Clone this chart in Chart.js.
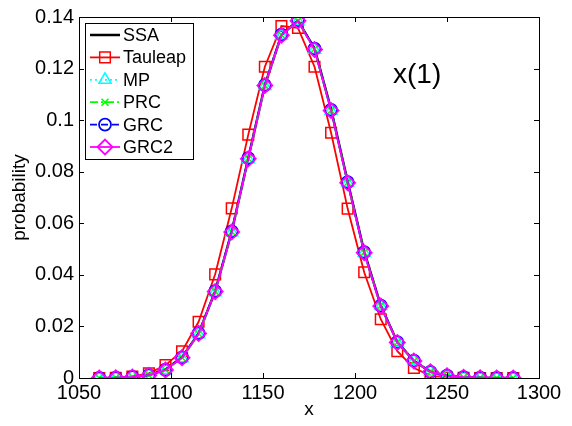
<!DOCTYPE html>
<html>
<head>
<meta charset="utf-8">
<script src="https://cdn.jsdelivr.net/npm/chart.js@4.4.0/dist/chart.umd.min.js"></script>
<style>
  html, body { margin: 0; padding: 0; background: #fff; }
  #wrap { width: 572px; height: 426px; }
</style>
</head>
<body>
<div id="wrap"><canvas id="distChart" width="572" height="426"></canvas></div>
<script>
// x positions of the histogram points
var xs = [1061, 1070, 1079, 1088, 1097, 1106, 1115, 1124, 1133, 1142, 1151, 1160, 1169,
          1178, 1187, 1196, 1205, 1214, 1223, 1232, 1241, 1250, 1259, 1268, 1277, 1286];

var ssa     = [0, 0.0001, 0.0004, 0.0011, 0.0033, 0.0080, 0.0173, 0.0336, 0.0568, 0.0852, 0.1135, 0.1330, 0.1386,
               0.1278, 0.1042, 0.0762, 0.0490, 0.0281, 0.0139, 0.0067, 0.0024, 0.0009, 0.0003, 0.0001, 0, 0];
var tauleap = [0, 0.0001, 0.0006, 0.0018, 0.0050, 0.0104, 0.0218, 0.0402, 0.0658, 0.0944, 0.1207, 0.1365, 0.1358,
               0.1207, 0.0951, 0.0657, 0.0410, 0.0228, 0.0104, 0.0039, 0.0009, 0.0002, 0.0001, 0, 0, 0];
var mp      = [0, 0.0001, 0.0004, 0.0010, 0.0031, 0.0077, 0.0170, 0.0333, 0.0565, 0.0848, 0.1132, 0.1328, 0.1384,
               0.1273, 0.1036, 0.0756, 0.0485, 0.0279, 0.0137, 0.0066, 0.0024, 0.0009, 0.0003, 0.0001, 0, 0];
var prc     = [0, 0.0001, 0.0004, 0.0011, 0.0032, 0.0079, 0.0172, 0.0335, 0.0567, 0.0851, 0.1134, 0.1331, 0.1385,
               0.1275, 0.1038, 0.0758, 0.0487, 0.0280, 0.0138, 0.0066, 0.0024, 0.0009, 0.0003, 0.0001, 0, 0];
var grc     = [0, 0.0001, 0.0004, 0.0011, 0.0032, 0.0080, 0.0174, 0.0337, 0.0569, 0.0853, 0.1136, 0.1332, 0.1387,
               0.1277, 0.1040, 0.0760, 0.0488, 0.0281, 0.0139, 0.0067, 0.0024, 0.0009, 0.0003, 0.0001, 0, 0];
var grc2    = [0, 0.0001, 0.0004, 0.0011, 0.0031, 0.0079, 0.0173, 0.0335, 0.0566, 0.0850, 0.1134, 0.1329, 0.1385,
               0.1274, 0.1037, 0.0757, 0.0486, 0.0279, 0.0138, 0.0066, 0.0024, 0.0009, 0.0003, 0.0001, 0, 0];

var xTicks = [1050, 1100, 1150, 1200, 1250, 1300];
var yTicks = [0, 0.02, 0.04, 0.06, 0.08, 0.1, 0.12, 0.14];

function pts(ys) {
    return xs.map(function (x, i) { return { x: x, y: ys[i] }; });
}

var FONT = "'Liberation Sans', Arial, sans-serif";
var clear = 'rgba(0,0,0,0)';

var datasets = [
    { label: 'SSA', data: pts(ssa), borderColor: '#000000', borderWidth: 2.5,
      pointRadius: 0, pointStyle: false, order: 6 },
    { label: 'Tauleap', data: pts(tauleap), borderColor: '#ff0000', borderWidth: 1.8,
      pointStyle: 'rect', pointRadius: 7.5, pointBorderWidth: 1.5, pointBorderColor: '#ff0000',
      pointBackgroundColor: clear, order: 5 },
    { label: 'MP', data: pts(mp), borderColor: '#00ffff', borderWidth: 1.8, borderDash: [2, 3],
      pointStyle: 'triangle', pointRadius: 7, pointBorderWidth: 1.5, pointBorderColor: '#00ffff',
      pointBackgroundColor: clear, order: 4 },
    { label: 'PRC', data: pts(prc), borderColor: '#00ff00', borderWidth: 1.8, borderDash: [8, 3, 2, 3],
      pointStyle: 'crossRot', pointRadius: 5, pointBorderWidth: 1.5, pointBorderColor: '#00ff00',
      pointBackgroundColor: clear, order: 3 },
    { label: 'GRC', data: pts(grc), borderColor: '#0000ff', borderWidth: 1.8, borderDash: [7, 4],
      pointStyle: 'circle', pointRadius: 6, pointBorderWidth: 1.8, pointBorderColor: '#0000ff',
      pointBackgroundColor: clear, order: 2 },
    { label: 'GRC2', data: pts(grc2), borderColor: '#ff00ff', borderWidth: 1.8,
      pointStyle: 'rectRot', pointRadius: 7.5, pointBorderWidth: 1.8, pointBorderColor: '#ff00ff',
      pointBackgroundColor: clear, order: 1 }
];

// box, inward tick marks, legend and the x(1) label, drawn matlab-style
var matlabFrame = {
    id: 'matlabFrame',
    afterDraw: function (chart) {
        var ctx = chart.ctx, a = chart.chartArea;
        var sx = chart.scales.x, sy = chart.scales.y;
        ctx.save();
        ctx.strokeStyle = '#000';
        ctx.lineWidth = 1;
        ctx.strokeRect(a.left + 0.5, a.top + 0.5, a.right - a.left, a.bottom - a.top);
        ctx.beginPath();
        xTicks.forEach(function (v) {
            var px = Math.round(sx.getPixelForValue(v)) + 0.5;
            ctx.moveTo(px, a.bottom); ctx.lineTo(px, a.bottom - 5);
            ctx.moveTo(px, a.top); ctx.lineTo(px, a.top + 5);
        });
        yTicks.forEach(function (v) {
            var py = Math.round(sy.getPixelForValue(v)) + 0.5;
            ctx.moveTo(a.left, py); ctx.lineTo(a.left + 5, py);
            ctx.moveTo(a.right, py); ctx.lineTo(a.right - 5, py);
        });
        ctx.stroke();

        // legend box
        var lx = a.left + 6, ly = a.top + 6, lw = 108, lh = 136;
        ctx.fillStyle = '#fff';
        ctx.fillRect(lx, ly, lw, lh);
        ctx.strokeRect(lx + 0.5, ly + 0.5, lw, lh);
        ctx.font = '18px ' + FONT;
        ctx.textBaseline = 'middle';
        ctx.textAlign = 'left';
        chart.data.datasets.forEach(function (ds, i) {
            var yy = ly + 12 + i * 22.4;
            ctx.save();
            ctx.strokeStyle = ds.borderColor;
            ctx.lineWidth = ds.borderWidth;
            ctx.setLineDash(ds.borderDash || []);
            ctx.beginPath();
            ctx.moveTo(lx + 5, yy); ctx.lineTo(lx + 35, yy);
            ctx.stroke();
            ctx.setLineDash([]);
            if (ds.pointStyle) {
                ctx.strokeStyle = ds.pointBorderColor;
                ctx.fillStyle = clear;
                ctx.lineWidth = ds.pointBorderWidth;
                Chart.helpers.drawPoint(ctx, {
                    pointStyle: ds.pointStyle, radius: ds.pointRadius,
                    rotation: 0, borderWidth: ds.pointBorderWidth
                }, lx + 20, yy);
            }
            ctx.restore();
            ctx.fillStyle = '#000';
            ctx.fillText(ds.label, lx + 38, yy + 1);
        });

        ctx.font = '28px ' + FONT;
        ctx.fillStyle = '#000';
        ctx.textBaseline = 'alphabetic';
        ctx.fillText('x(1)', 393, 83);
        ctx.restore();
    }
};

var distChart = new Chart('distChart', {
    type: 'line',
    data: { datasets: datasets },
    options: {
        responsive: false,
        animation: false,
        layout: { padding: { left: 8, right: 33, top: 15, bottom: 5 } },
        plugins: {
            legend: { display: false },
            tooltip: { enabled: false }
        },
        elements: { line: { tension: 0 } },
        scales: {
            x: {
                type: 'linear', min: 1050, max: 1300,
                afterBuildTicks: function (s) { s.ticks = xTicks.map(function (v) { return { value: v }; }); },
                afterFit: function (s) { s.height = 43; },
                grid: { display: false, drawTicks: false },
                border: { display: false },
                ticks: {
                    color: '#000', font: { family: FONT, size: 20 }, padding: 3, maxRotation: 0,
                    callback: function (v) { return String(v); }
                },
                title: { display: true, text: 'x', color: '#000', font: { family: FONT, size: 19 }, padding: 0 }
            },
            y: {
                min: 0, max: 0.14,
                afterBuildTicks: function (s) { s.ticks = yTicks.map(function (v) { return { value: v }; }); },
                afterFit: function (s) { s.width = 71; },
                grid: { display: false, drawTicks: false },
                border: { display: false },
                ticks: {
                    color: '#000', font: { family: FONT, size: 20 }, padding: 5,
                    callback: function (v) { return String(+v.toFixed(2)); }
                },
                title: { display: true, text: 'probability', color: '#000', font: { family: FONT, size: 19 }, padding: 0 }
            }
        }
    },
    plugins: [matlabFrame]
});
</script>
</body>
</html>
